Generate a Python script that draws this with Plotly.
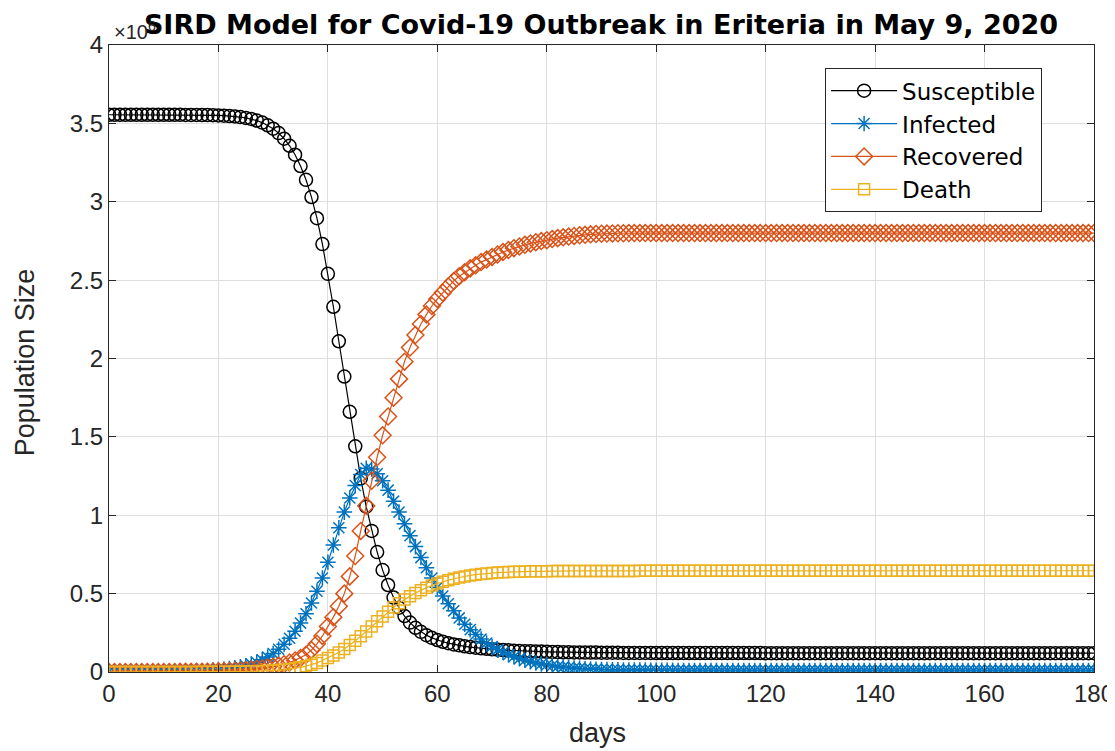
import plotly.graph_objects as go

days = list(range(181))

susceptible = [
    3.555, 3.555, 3.555, 3.555, 3.555, 3.555, 3.555, 3.555, 3.555, 3.555,
    3.555, 3.555, 3.555, 3.555, 3.554, 3.554, 3.554, 3.553, 3.553, 3.552,
    3.551, 3.549, 3.547, 3.544, 3.540, 3.535, 3.528, 3.518, 3.505, 3.488,
    3.466, 3.438, 3.402, 3.357, 3.300, 3.228, 3.140, 3.030, 2.895, 2.730,
    2.540, 2.330, 2.110, 1.885, 1.660, 1.440, 1.235, 1.055, 0.900, 0.765,
    0.650, 0.555, 0.475, 0.410, 0.357, 0.315, 0.282, 0.256, 0.235, 0.218,
    0.204, 0.193, 0.184, 0.176, 0.170, 0.164, 0.159, 0.155, 0.151, 0.148,
    0.145, 0.142, 0.140, 0.138, 0.136, 0.134, 0.133, 0.132, 0.131, 0.130,
    0.129, 0.128, 0.127, 0.126, 0.126, 0.125, 0.125, 0.124, 0.124, 0.124,
    0.123, 0.123, 0.123, 0.123, 0.122, 0.122, 0.122, 0.122, 0.122, 0.122,
    0.121, 0.121, 0.121, 0.121, 0.121, 0.121, 0.121, 0.121, 0.121, 0.121,
    0.121, 0.121, 0.121, 0.121, 0.121, 0.121, 0.121, 0.121, 0.121, 0.121,
    0.120, 0.120, 0.120, 0.120, 0.120, 0.120, 0.120, 0.120, 0.120, 0.120,
    0.120, 0.120, 0.120, 0.120, 0.120, 0.120, 0.120, 0.120, 0.120, 0.120,
    0.120, 0.120, 0.120, 0.120, 0.120, 0.120, 0.120, 0.120, 0.120, 0.120,
    0.120, 0.120, 0.120, 0.120, 0.120, 0.120, 0.120, 0.120, 0.120, 0.120,
    0.120, 0.120, 0.120, 0.120, 0.120, 0.120, 0.120, 0.120, 0.120, 0.120,
    0.120, 0.120, 0.120, 0.120, 0.120, 0.120, 0.120, 0.120, 0.120, 0.120,
    0.120,
]

infected = [
    0.001, 0.001, 0.001, 0.001, 0.001, 0.001, 0.002, 0.002, 0.002, 0.002,
    0.003, 0.003, 0.004, 0.004, 0.005, 0.006, 0.007, 0.008, 0.010, 0.012,
    0.015, 0.018, 0.022, 0.027, 0.033, 0.040, 0.050, 0.062, 0.078, 0.096,
    0.118, 0.145, 0.177, 0.215, 0.260, 0.312, 0.372, 0.440, 0.515, 0.600,
    0.700, 0.810, 0.920, 1.020, 1.110, 1.190, 1.260, 1.300, 1.295, 1.265,
    1.220, 1.160, 1.090, 1.020, 0.945, 0.870, 0.800, 0.730, 0.665, 0.600,
    0.540, 0.485, 0.435, 0.390, 0.345, 0.305, 0.270, 0.240, 0.210, 0.185,
    0.163, 0.143, 0.126, 0.110, 0.097, 0.085, 0.075, 0.066, 0.058, 0.051,
    0.045, 0.040, 0.035, 0.031, 0.028, 0.025, 0.023, 0.021, 0.019, 0.017,
    0.016, 0.015, 0.014, 0.014, 0.013, 0.013, 0.012, 0.012, 0.012, 0.011,
    0.011, 0.011, 0.011, 0.011, 0.010, 0.010, 0.010, 0.010, 0.010, 0.010,
    0.010, 0.010, 0.010, 0.010, 0.010, 0.010, 0.010, 0.010, 0.010, 0.010,
    0.010, 0.010, 0.010, 0.010, 0.010, 0.010, 0.010, 0.010, 0.010, 0.010,
    0.010, 0.010, 0.010, 0.010, 0.010, 0.010, 0.010, 0.010, 0.010, 0.010,
    0.010, 0.010, 0.010, 0.010, 0.010, 0.010, 0.010, 0.010, 0.010, 0.010,
    0.010, 0.010, 0.010, 0.010, 0.010, 0.010, 0.010, 0.010, 0.010, 0.010,
    0.010, 0.010, 0.010, 0.010, 0.010, 0.010, 0.010, 0.010, 0.010, 0.010,
    0.010, 0.010, 0.010, 0.010, 0.010, 0.010, 0.010, 0.010, 0.010, 0.010,
    0.010,
]

recovered = [
    0.000, 0.000, 0.000, 0.000, 0.000, 0.000, 0.000, 0.000, 0.000, 0.000,
    0.000, 0.000, 0.000, 0.001, 0.001, 0.001, 0.001, 0.002, 0.002, 0.003,
    0.004, 0.005, 0.006, 0.008, 0.010, 0.012, 0.015, 0.019, 0.023, 0.028,
    0.034, 0.041, 0.050, 0.061, 0.074, 0.090, 0.110, 0.140, 0.180, 0.230,
    0.290, 0.350, 0.420, 0.500, 0.610, 0.740, 0.900, 1.060, 1.220, 1.370,
    1.510, 1.630, 1.750, 1.870, 1.980, 2.070, 2.150, 2.220, 2.280, 2.335,
    2.380, 2.420, 2.460, 2.495, 2.525, 2.550, 2.575, 2.595, 2.615, 2.632,
    2.648, 2.664, 2.679, 2.692, 2.704, 2.715, 2.725, 2.734, 2.742, 2.749,
    2.755, 2.762, 2.768, 2.773, 2.778, 2.782, 2.786, 2.789, 2.792, 2.794,
    2.796, 2.797, 2.798, 2.799, 2.799, 2.800, 2.800, 2.800, 2.800, 2.800,
    2.800, 2.800, 2.800, 2.800, 2.800, 2.800, 2.800, 2.800, 2.800, 2.800,
    2.800, 2.800, 2.800, 2.800, 2.800, 2.800, 2.800, 2.800, 2.800, 2.800,
    2.800, 2.800, 2.800, 2.800, 2.800, 2.800, 2.800, 2.800, 2.800, 2.800,
    2.800, 2.800, 2.800, 2.800, 2.800, 2.800, 2.800, 2.800, 2.800, 2.800,
    2.800, 2.800, 2.800, 2.800, 2.800, 2.800, 2.800, 2.800, 2.800, 2.800,
    2.800, 2.800, 2.800, 2.800, 2.800, 2.800, 2.800, 2.800, 2.800, 2.800,
    2.800, 2.800, 2.800, 2.800, 2.800, 2.800, 2.800, 2.800, 2.800, 2.800,
    2.800, 2.800, 2.800, 2.800, 2.800, 2.800, 2.800, 2.800, 2.800, 2.800,
    2.800,
]

death = [
    0.000, 0.000, 0.000, 0.000, 0.000, 0.000, 0.000, 0.000, 0.000, 0.000,
    0.000, 0.000, 0.000, 0.000, 0.000, 0.000, 0.000, 0.001, 0.001, 0.001,
    0.001, 0.001, 0.002, 0.002, 0.003, 0.003, 0.004, 0.005, 0.006, 0.008,
    0.010, 0.012, 0.015, 0.019, 0.024, 0.030, 0.037, 0.046, 0.058, 0.073,
    0.089, 0.105, 0.125, 0.147, 0.172, 0.199, 0.228, 0.259, 0.291, 0.323,
    0.354, 0.384, 0.412, 0.438, 0.462, 0.484, 0.504, 0.522, 0.538, 0.552,
    0.565, 0.576, 0.586, 0.595, 0.603, 0.610, 0.616, 0.621, 0.625, 0.629,
    0.632, 0.634, 0.636, 0.638, 0.639, 0.640, 0.641, 0.642, 0.642, 0.643,
    0.643, 0.644, 0.644, 0.644, 0.645, 0.645, 0.645, 0.645, 0.645, 0.645,
    0.645, 0.645, 0.645, 0.645, 0.645, 0.645, 0.645, 0.646, 0.646, 0.646,
    0.646, 0.646, 0.646, 0.646, 0.646, 0.646, 0.646, 0.646, 0.646, 0.646,
    0.646, 0.646, 0.646, 0.646, 0.646, 0.646, 0.646, 0.646, 0.646, 0.646,
    0.646, 0.646, 0.646, 0.646, 0.646, 0.646, 0.646, 0.646, 0.646, 0.646,
    0.646, 0.646, 0.646, 0.646, 0.646, 0.646, 0.646, 0.646, 0.646, 0.646,
    0.646, 0.646, 0.646, 0.646, 0.646, 0.646, 0.646, 0.646, 0.646, 0.646,
    0.646, 0.646, 0.646, 0.646, 0.646, 0.646, 0.646, 0.646, 0.646, 0.646,
    0.646, 0.646, 0.646, 0.646, 0.646, 0.646, 0.646, 0.646, 0.646, 0.646,
    0.646, 0.646, 0.646, 0.646, 0.646, 0.646, 0.646, 0.646, 0.646, 0.646,
    0.646,
]

series_names = ["Susceptible", "Infected", "Recovered", "Death"]
series_values = [susceptible, infected, recovered, death]
colors = ["#000000", "#0072BD", "#D95319", "#EDB120"]
symbols = ["circle-open", "asterisk-open", "diamond-open", "square-open"]
sizes = [13, 13, 13, 11]

title_text = "SIRD Model for Covid-19 Outbreak in Eriteria in May 9, 2020"
x_ticks = [0, 20, 40, 60, 80, 100, 120, 140, 160, 180]
y_ticks = [0, 0.5, 1, 1.5, 2, 2.5, 3, 3.5, 4]
y_ticklabels = ["0", "0.5", "1", "1.5", "2", "2.5", "3", "3.5", "4"]

FONT = "Liberation Sans, Arial, sans-serif"
WIDE = "DejaVu Sans, Verdana, sans-serif"

# page body has an 8px default margin; the figure is sized to fill the rest
W, H = 1107, 743
L, R, T, B = 101, 21, 37, 79

fig = go.Figure()
for name, vals, col, sym, sz in zip(series_names, series_values, colors, symbols, sizes):
    fig.add_trace(go.Scatter(
        x=days, y=vals, name=name, mode="lines+markers",
        line=dict(color=col, width=1.2),
        marker=dict(symbol=sym, size=sz, color=col, line=dict(color=col, width=1.5)),
    ))

fig.update_layout(
    width=W, height=H,
    margin=dict(l=L, r=R, t=T, b=B),
    paper_bgcolor="white", plot_bgcolor="white",
    font=dict(family=FONT, color="#262626"),
    title=dict(text="<b>" + title_text + "</b>", x=0.5357, xanchor="center",
               y=0.978, yanchor="middle", yref="container",
               font=dict(size=27, color="#000000", family=WIDE)),
    legend=dict(x=0.727, y=0.963, xanchor="left", yanchor="top",
                bgcolor="white", bordercolor="#262626", borderwidth=1,
                font=dict(size=23, color="#000000", family=WIDE),
                itemwidth=66),
    showlegend=True,
)

fig.update_xaxes(
    range=[0, 180], tickvals=x_ticks, ticks="inside", ticklen=7,
    tickcolor="#262626", showline=True, linecolor="#262626", linewidth=1,
    mirror="ticks", showgrid=True, gridcolor="#dedede", zeroline=False,
    tickfont=dict(size=24, color="#262626"), automargin=False,
)
fig.update_yaxes(
    range=[0, 4], tickvals=y_ticks, ticktext=y_ticklabels, ticks="inside", ticklen=7,
    tickcolor="#262626", showline=True, linecolor="#262626", linewidth=1,
    mirror="ticks", showgrid=True, gridcolor="#dedede", zeroline=False,
    tickfont=dict(size=24, color="#262626"), automargin=False,
)

# axis titles
fig.add_annotation(
    text="days", xref="paper", yref="paper", x=0.4964, y=-0.097,
    xanchor="center", yanchor="middle", showarrow=False,
    font=dict(size=27, color="#262626", family=FONT),
)
fig.add_annotation(
    text="Population Size", xref="paper", yref="paper", x=-0.0853, y=0.494,
    xanchor="center", yanchor="middle", showarrow=False, textangle=-90,
    font=dict(size=27, color="#262626", family=FONT),
)
# exponent label (partly covered by the title, as in the original)
fig.add_annotation(
    text="\u00d710<sup>6</sup>", xref="paper", yref="paper", x=0.003, y=1.0,
    xanchor="left", yanchor="bottom", showarrow=False, yshift=0,
    font=dict(size=20, color="#262626", family=FONT),
)

fig.write_html("out.html")
